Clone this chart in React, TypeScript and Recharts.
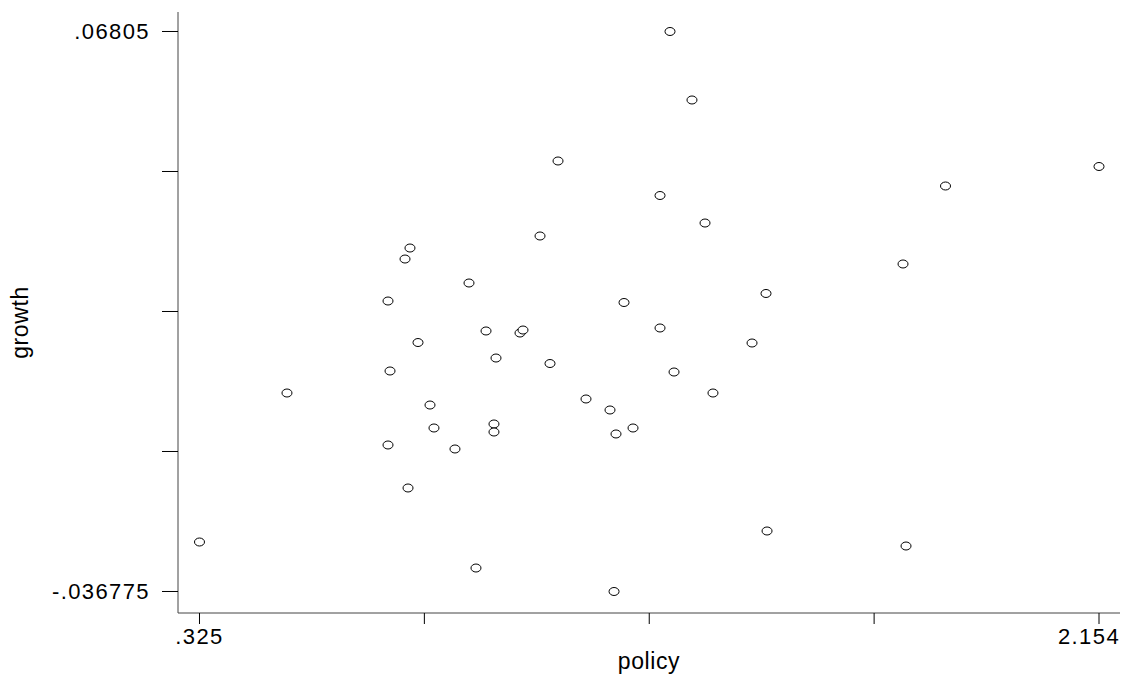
import React from 'react';
import { ScatterChart, Scatter, XAxis, YAxis, Label } from 'recharts';

// policy vs growth
const policy = [
  0.325, 0.5029, 0.7083, 0.7124, 0.7083, 0.7429, 0.753, 0.749, 0.7693, 0.7937,
  0.8018, 0.8445, 0.873, 0.8872, 0.9076, 0.9238, 0.9238, 0.9279, 0.9767, 0.9828,
  1.0174, 1.0377, 1.054, 1.1109, 1.1597, 1.1679, 1.1719, 1.1882, 1.2065, 1.2614,
  1.2614, 1.2817, 1.2899, 1.3264, 1.3529, 1.3691, 1.4485, 1.4769, 1.479, 1.7555,
  1.7616, 1.8419, 2.154,
];
const growth = [
  -0.02751, 0.00038, 0.0176, 0.0045, -0.00935, 0.02546, 0.02752, -0.0174, 0.00983, -0.00187,
  -0.00617, -0.0101, 0.02097, -0.03238, 0.01199, -0.00542, -0.00692, 0.00693, 0.01161, 0.01217,
  0.02977, 0.0059, 0.04381, -0.00074, -0.0028, -0.036775, -0.00729, 0.01732, -0.00617, 0.03735,
  0.01255, 0.06805, 0.00431, 0.05523, 0.0322, 0.00038, 0.00974, 0.01901, -0.02545, 0.02453,
  -0.02826, 0.03913, 0.04278,
];

const xTicks = [0.325, 0.78225, 1.2395, 1.69675, 2.154];
const yTicks = [-0.036775, -0.0105688, 0.0156375, 0.0418438, 0.06805];
const xLabels: Record<string, string> = { '0.325': '.325', '2.154': '2.154' };
const yLabels: Record<string, string> = { '-0.036775': '-.036775', '0.06805': '.06805' };

const data = policy.map((p, i) => ({ policy: p, growth: growth[i] }));

const font = 'Arial, "Liberation Sans", sans-serif';

const Hollow = (props: any) => (
  <ellipse cx={props.cx} cy={props.cy} rx={5} ry={4} fill="#fff" stroke="#000" strokeWidth={1} />
);

// last x label is pulled in so it stays inside the frame, like Stata does
const XTick = ({ x, y, payload, index, visibleTicksCount }: any) => {
  const label = xLabels[String(payload.value)] ?? '';
  const shift = index === visibleTicksCount - 1 ? -10 : 0;
  return (
    <text
      x={x + shift}
      y={y}
      dy="0.71em"
      textAnchor="middle"
      fontSize={22}
      fontFamily={font}
      fill="#000"
      letterSpacing={1.4}
    >
      {label}
    </text>
  );
};

export default function App() {
  return (
    <div style={{ position: 'absolute', left: 0, top: 0, background: '#fff' }}>
      <ScatterChart width={1127} height={675} margin={{ top: 12, right: 7, bottom: 0, left: 0 }}>
        <XAxis
          type="number"
          dataKey="policy"
          domain={[0.2813, 2.1967]}
          ticks={xTicks}
          height={62}
          tickSize={11}
          tickMargin={4}
          stroke="#444"
          tick={<XTick />}
          tickLine={{ stroke: '#000' }}
          interval={0}
          allowDataOverflow
        >
          <Label
            value="policy"
            position="insideBottom"
            offset={6}
            style={{ fontSize: 23, fontFamily: font, fill: '#000', letterSpacing: 0.6 }}
          />
        </XAxis>
        <YAxis
          type="number"
          dataKey="growth"
          domain={[-0.0408, 0.0717]}
          ticks={yTicks}
          tickFormatter={(v) => yLabels[String(v)] ?? ''}
          width={178}
          tickSize={16}
          tickMargin={12}
          stroke="#444"
          tick={{ fill: '#000', fontSize: 22, fontFamily: font, letterSpacing: 1.4 }}
          tickLine={{ stroke: '#000' }}
          interval={0}
          allowDataOverflow
        >
          <Label
            content={({ viewBox }: any) => (
              <text
                x={viewBox.x + 28}
                y={viewBox.y + viewBox.height / 2 + 10}
                transform={`rotate(-90, ${viewBox.x + 28}, ${viewBox.y + viewBox.height / 2 + 10})`}
                textAnchor="middle"
                fontSize={23}
                fontFamily={font}
                fill="#000"
                letterSpacing={0.6}
              >
                growth
              </text>
            )}
          />
        </YAxis>
        <Scatter data={data} shape={<Hollow />} isAnimationActive={false} />
      </ScatterChart>
    </div>
  );
}
